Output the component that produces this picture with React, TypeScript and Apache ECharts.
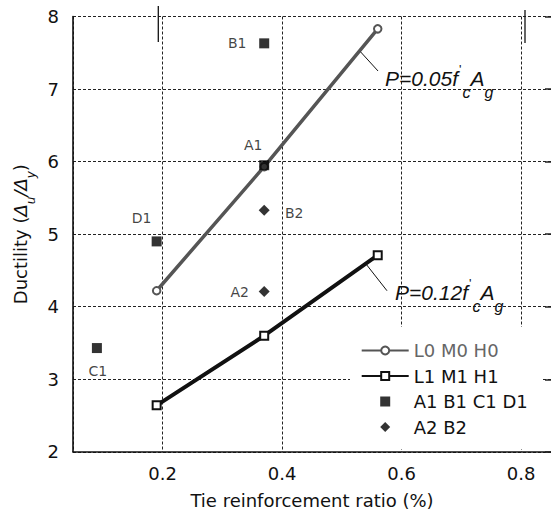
import React, { useEffect, useRef } from 'react';
import * as echarts from 'echarts';

// ---- data ----
const seriesNames = ['L0 M0 H0', 'L1 M1 H1', 'A1 B1 C1 D1', 'A2 B2'];
const xL0 = [0.19, 0.37, 0.56];
const yL0 = [4.22, 5.93, 7.83];
const xL1 = [0.19, 0.37, 0.56];
const yL1 = [2.64, 3.6, 4.71];
const sqNames = ['A1', 'B1', 'C1', 'D1'];
const sqX = [0.37, 0.37, 0.09, 0.19];
const sqY = [5.95, 7.63, 3.43, 4.9];
const diaNames = ['A2', 'B2'];
const diaX = [0.37, 0.37];
const diaY = [4.21, 5.33];
const xMin = 0.05;
const xMax = 0.85;
const yMin = 2;
const yMax = 8;
const annotationLoad = ['0.05', '0.12'];
// leader lines (data coordinates)
const leader1 = [[0.531, 7.515], [0.5605, 7.249]];
const leader2 = [[0.5395, 4.598], [0.5755, 4.22]];

// ---- styles ----
const sqLabelOffset = [[-11, -20], [-27, 0], [1, 23], [-15, -23.5]];
const diaLabelOffset = [[-24.5, 1], [30, 3]];
const FONT = 'DejaVu Sans';

const annRich = {
  m: { fontSize: 21, fontStyle: 'italic', fontFamily: 'Liberation Sans', lineHeight: 22, verticalAlign: 'top', padding: [12, 0, 0, 0], fill: '#111' },
  p: { fontSize: 13, fontFamily: 'Liberation Sans', lineHeight: 13, verticalAlign: 'top', padding: [7, 1, 0, 1], fill: '#111' },
  s: { fontSize: 16, fontStyle: 'italic', fontFamily: 'Liberation Sans', lineHeight: 16, verticalAlign: 'top', padding: [28, 0, 0, 0], fill: '#111' },
};

export default function App() {
  const ref = useRef<HTMLDivElement>(null);
  useEffect(() => {
    if (!ref.current) return;
    const chart = echarts.init(ref.current, undefined, { renderer: 'svg' });
    const splitLine = { show: true, lineStyle: { color: '#222', type: [3, 2], width: 1 } };
    const option: any = {
      animation: false,
      backgroundColor: '#fff',
      grid: { left: 73, top: 16.5, right: -2, bottom: 66.2, containLabel: false },
      xAxis: {
        type: 'value', min: xMin, max: xMax, splitNumber: 4,
        name: 'Tie reinforcement ratio (%)', nameLocation: 'middle', nameGap: 38,
        nameTextStyle: { fontFamily: FONT, fontSize: 18, color: '#111', lineHeight: 22 },
        axisLine: { show: true, lineStyle: { color: '#111', width: 1.6 } },
        axisTick: { show: false },
        axisLabel: { showMinLabel: false, showMaxLabel: false, fontFamily: FONT, fontSize: 18, color: '#111', margin: 13, lineHeight: 18 },
        splitLine,
      },
      yAxis: [
        {
          type: 'value', min: yMin, max: yMax, interval: 1,
          name: '{a|Ductility (}{i|Δ}{s|u}{i|/Δ}{s|y}{a|)}', nameLocation: 'middle', nameRotate: 90, nameGap: 37,
          nameTextStyle: {
            color: '#111',
            rich: {
              a: { fontFamily: FONT, fontSize: 18, lineHeight: 20, verticalAlign: 'top', color: '#111' },
              i: { fontFamily: FONT, fontSize: 18, fontStyle: 'italic', lineHeight: 20, verticalAlign: 'top', color: '#111' },
              s: { fontFamily: FONT, fontSize: 12, fontStyle: 'italic', lineHeight: 12, verticalAlign: 'top', padding: [13, 0, 0, 0], color: '#111' },
            },
          },
          axisLine: { show: true, lineStyle: { color: '#111', width: 1.6 } },
          axisTick: { show: false },
          axisLabel: { fontFamily: FONT, fontSize: 18, color: '#111', margin: 14 },
          splitLine,
        },
        {
          type: 'value', min: yMin, max: yMax, interval: 1, position: 'right',
          axisLine: { show: false },
          axisTick: { show: true, inside: true, length: 6, lineStyle: { color: '#222', width: 1.5 } },
          axisLabel: { show: false },
          splitLine: { show: false },
        },
      ],
      legend: {
        orient: 'vertical', left: 350, top: 327,
        backgroundColor: '#fff',
        padding: [14.5, 14, 13, 10.7],
        itemWidth: 47, itemHeight: 10, itemGap: 7.5,
        textStyle: { fontFamily: FONT, fontSize: 18, color: '#111', lineHeight: 16 },
        data: [
          { name: seriesNames[0], textStyle: { color: '#666' } },
          { name: seriesNames[1] },
          { name: seriesNames[2], icon: 'path://M0,0h10v10h-10z' },
          { name: seriesNames[3], icon: 'path://M5,0L10,5L5,10L0,5z' },
        ],
      },
      series: [
        {
          name: seriesNames[0], type: 'line', z: 3,
          data: xL0.map((x, i) => [x, yL0[i]]),
          symbol: 'emptyCircle', symbolSize: 7.5,
          lineStyle: { color: '#555', width: 3.5 },
          itemStyle: { color: '#555', borderWidth: 1 },
          markLine: {
            silent: true, symbol: ['none', 'none'], label: { show: false },
            lineStyle: { color: '#111', width: 1, type: 'solid' },
            data: [[{ coord: leader1[0] }, { coord: leader1[1] }]],
          },
        },
        {
          name: seriesNames[1], type: 'line', z: 3,
          data: xL1.map((x, i) => [x, yL1[i]]),
          symbol: 'emptyRect', symbolSize: 8,
          lineStyle: { color: '#111', width: 4 },
          itemStyle: { color: '#111', borderWidth: 1 },
          markLine: {
            silent: true, symbol: ['none', 'none'], label: { show: false },
            lineStyle: { color: '#111', width: 1, type: 'solid' },
            data: [[{ coord: leader2[0] }, { coord: leader2[1] }]],
          },
        },
        {
          name: seriesNames[2], type: 'scatter', z: 4,
          symbol: 'rect', symbolSize: 10,
          itemStyle: { color: '#000' },
          label: { show: true, position: 'inside', fontFamily: FONT, fontSize: 14, color: '#111', formatter: (p: any) => p.name },
          data: sqX.map((x, i) => ({ name: sqNames[i], value: [x, sqY[i]], label: { offset: sqLabelOffset[i] } })),
        },
        {
          name: seriesNames[3], type: 'scatter', z: 4,
          symbol: 'diamond', symbolSize: 11,
          itemStyle: { color: '#000' },
          label: { show: true, position: 'inside', fontFamily: FONT, fontSize: 14, color: '#111', formatter: (p: any) => p.name },
          data: diaX.map((x, i) => ({ name: diaNames[i], value: [x, diaY[i]], label: { offset: diaLabelOffset[i] } })),
        },
      ],
      graphic: [
        {
          type: 'text', x: 385, y: 56, z: 10,
          style: { text: `{m|P=${annotationLoad[0]}f}{p|'}{s|c}{m|A}{s|g}`, rich: annRich, align: 'left', verticalAlign: 'top' },
        },
        {
          type: 'text', x: 395, y: 270, z: 10,
          style: { text: `{m|P=${annotationLoad[1]}f}{p|'}{s|c}{m|A}{s|g}`, rich: annRich, align: 'left', verticalAlign: 'top' },
        },
        { type: 'line', shape: { x1: 158.3, y1: 6, x2: 158.3, y2: 42 }, style: { stroke: '#111', lineWidth: 1.3 }, z: 10 },
        { type: 'line', shape: { x1: 525, y1: 10, x2: 525, y2: 43 }, style: { stroke: '#111', lineWidth: 1.3 }, z: 10 },
      ],
    };
    chart.setOption(option);
    return () => chart.dispose();
  }, []);
  return <div ref={ref} style={{ position: 'absolute', left: 0, top: 0, width: 551, height: 518 }} />;
}
